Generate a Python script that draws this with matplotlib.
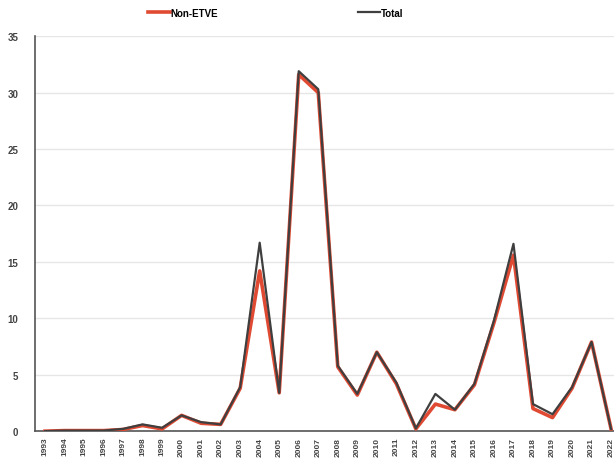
import numpy as np
import matplotlib
matplotlib.use("Agg")
import matplotlib.pyplot as plt

years = list(range(1993, 2023))
non_etve = [0.0, 0.05, 0.05, 0.05, 0.15, 0.5, 0.2, 1.4, 0.7, 0.6, 3.8, 14.2, 3.4, 31.6, 30.0,
            5.7, 3.2, 7.0, 4.2, 0.2, 2.4, 1.9, 4.1, 9.6, 15.6, 2.0, 1.2, 3.8, 7.9, 0.2]
total = [0.0, 0.05, 0.05, 0.05, 0.2, 0.6, 0.3, 1.4, 0.8, 0.6, 3.9, 16.7, 3.4, 31.9, 30.3,
         5.8, 3.3, 7.0, 4.3, 0.25, 3.3, 1.9, 4.2, 9.8, 16.6, 2.4, 1.5, 3.9, 7.9, 0.2]
yticks = [0, 5, 10, 15, 20, 25, 30, 35]

plt.rcParams['font.family'] = ['Liberation Sans', 'DejaVu Sans']

fig = plt.figure(figsize=(6.14, 4.77), dpi=100)
ax = fig.add_axes([0.057, 0.094, 0.943, 0.828])

ax.plot(years, non_etve, color="#e04a33", lw=2.6, label="Non-ETVE", zorder=3)
ax.plot(years, total, color="#3f3f3f", lw=1.6, label="Total", zorder=4)

ax.set_xlim(1992.49, 2022.15)
ax.set_ylim(0, 35)
ax.set_yticks(yticks)
ax.set_xticks(years)
ax.set_xticklabels([str(y) for y in years], rotation=90, fontsize=6, fontweight="bold", color="#444444")
ax.tick_params(axis="y", labelsize=7, length=0, pad=12, labelcolor="#444444")
ax.tick_params(axis="x", length=0, pad=4)
for lab in ax.get_yticklabels():
    lab.set_fontweight("bold")

ax.grid(axis="y", color="#e6e6e6", lw=1)
ax.set_axisbelow(True)
for s in ["top", "right"]:
    ax.spines[s].set_visible(False)
ax.spines["left"].set_color("#555555")
ax.spines["bottom"].set_color("#555555")
ax.spines["left"].set_linewidth(1.2)
ax.spines["bottom"].set_linewidth(1.2)

fig.legend(loc="upper center", bbox_to_anchor=(0.449, 1.0), ncol=2, frameon=False,
           prop={"weight": "bold", "size": 7}, columnspacing=14.4, handlelength=2.2,
           handletextpad=0.1)

fig.savefig("out.png", dpi=100)
